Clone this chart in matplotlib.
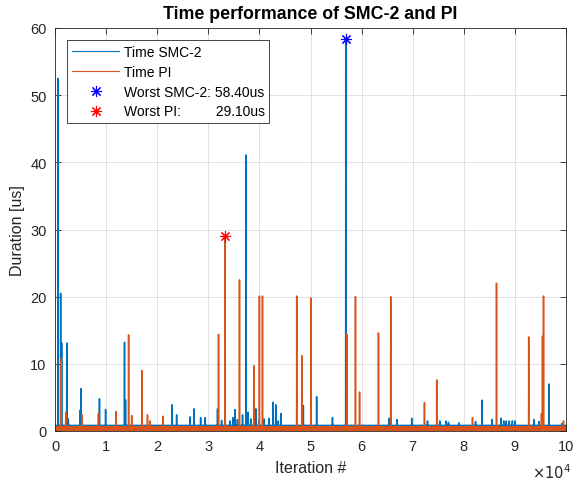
import matplotlib
matplotlib.use("Agg")
import matplotlib.pyplot as plt
from matplotlib.lines import Line2D
import numpy as np

plt.rcParams["font.family"] = ["Liberation Sans", "DejaVu Sans"]

# iteration grid (downsampled) and baseline jitter levels
n_iter = 100000
step = 25
smc_base = [0.4, 0.7, 0.5, 0.85, 0.45, 0.6, 0.5, 0.75]
pi_base = [0.1, 0.5, 0.25, 0.6, 0.15, 0.45, 0.3, 0.55]

# spikes: iteration, duration [us]
smc_spike_x = [600, 1100, 1300, 2300, 2600, 4900, 5100, 8700, 9900, 13600,
               13800, 22900, 23800, 26400, 27200, 28500, 29400, 31800, 32600,
               34200, 34800, 35200, 35700, 36700, 37400, 37800, 38300, 39300,
               39900, 40900, 41900, 42700, 43200, 43700, 44200, 48600, 51200,
               54300, 56900, 65400, 66900, 69800, 72900, 75300, 76500, 77000,
               79000, 82300, 83600, 85500, 87300, 87800, 88300, 88900, 89500,
               90000, 93700, 94700, 96700, 99200]
smc_spike_y = [52.5, 20.5, 13.1, 13.1, 1.8, 3.1, 6.3, 4.8, 3.2, 13.2,
               4.6, 3.9, 2.4, 2.1, 3.3, 2.0, 2.0, 3.3, 1.6,
               1.5, 2.0, 3.2, 1.7, 2.4, 41.1, 2.8, 1.8, 3.3,
               1.6, 1.8, 1.9, 4.3, 3.9, 1.5, 2.6, 3.8, 5.1,
               2.0, 58.4, 1.9, 1.7, 1.9, 1.5, 1.5, 1.5, 1.3,
               1.2, 1.4, 4.6, 1.7, 1.9, 1.5, 1.5, 1.5, 1.5,
               1.5, 1.7, 1.4, 7.0, 1.1]

pi_spike_x = [1200, 2100, 5300, 8500, 11900, 14400, 15000, 17000, 18100,
              18600, 21100, 32000, 33300, 36100, 38900, 40000, 40600, 47300,
              48300, 50100, 57100, 58800, 59600, 63300, 65700, 72300, 74700,
              81700, 86400, 92700, 95200, 95400, 95600, 99500]
pi_spike_y = [10.8, 2.8, 2.4, 2.6, 2.9, 14.3, 2.3, 9.0, 2.4,
              1.5, 2.2, 14.4, 29.1, 22.5, 9.7, 20.1, 20.1, 20.1,
              11.2, 19.8, 14.4, 20.0, 5.8, 14.6, 20.0, 4.2, 7.6,
              2.0, 22.0, 14.0, 2.6, 14.1, 20.1, 1.5]


def build_series(base, spike_x, spike_y):
    n = n_iter // step
    y = np.resize(np.array(base), n)
    for sx, sy in zip(spike_x, spike_y):
        y[sx // step] = sy
    return y


x = np.arange(n_iter // step) * step + 1
t_smc = build_series(smc_base, smc_spike_x, smc_spike_y)
t_pi = build_series(pi_base, pi_spike_x, pi_spike_y)

i_smc = np.argmax(t_smc)
i_pi = np.argmax(t_pi)

asterisk = (8, 2, 0)

fig = plt.figure(figsize=(5.74, 4.85), dpi=100)
ax = fig.add_axes([55 / 574, 53 / 485, 511 / 574, 403 / 485])

ax.plot(x, t_smc, color="#0072BD", lw=1.1)
ax.plot(x, t_pi, color="#D95319", lw=1.1)
ax.plot(x[i_smc], t_smc[i_smc], ls="none", marker=asterisk, color="blue",
        ms=8, mew=0.8)
ax.plot(x[i_pi], t_pi[i_pi], ls="none", marker=asterisk, color="red",
        ms=8, mew=0.8)

ax.set_xlim(0, n_iter)
ax.set_ylim(0, 60)
ax.set_xticks(np.arange(0, 100001, 10000))
ax.set_xticklabels([str(v) for v in range(11)])
ax.set_yticks(np.arange(0, 61, 10))

ax.grid(True, color="#dcdcdc", lw=0.6)
ax.set_axisbelow(True)
for s in ax.spines.values():
    s.set_color("#262626")
    s.set_linewidth(0.6)
ax.tick_params(direction="in", top=True, right=True, length=4, width=0.6,
               color="#262626", labelcolor="#262626", labelsize=10.5, pad=6)

ax.set_title("Time performance of SMC-2 and PI", fontsize=12.8,
             fontweight="bold", pad=7)
ax.set_xlabel("Iteration #", fontsize=11.5, color="#262626", labelpad=5)
ax.set_ylabel("Duration [us]", fontsize=11.5, color="#262626", labelpad=4)
ax.text(1.01, -0.102, r"$\times 10^{4}$", transform=ax.transAxes,
        ha="right", va="center", fontsize=10.5, color="#262626")

handles = [
    Line2D([], [], color="#0072BD", lw=0.8),
    Line2D([], [], color="#D95319", lw=0.8),
    Line2D([], [], ls="none", marker=asterisk, color="blue", ms=8, mew=0.8),
    Line2D([], [], ls="none", marker=asterisk, color="red", ms=8, mew=0.8),
]
labels = [
    "Time SMC-2",
    "Time PI",
    "Worst SMC-2: %.2fus" % t_smc[i_smc],
    "Worst PI:" + " " * 9 + "%.2fus" % t_pi[i_pi],
]
leg = ax.legend(handles, labels, loc="upper left",
                bbox_to_anchor=(0.024, 0.970), borderaxespad=0,
                fancybox=False, framealpha=1, edgecolor="#262626",
                fontsize=10, handlelength=3.4, handletextpad=0.3,
                labelspacing=0.42, borderpad=0.35)
leg.get_frame().set_linewidth(0.6)

fig.savefig("out.png", dpi=100)
